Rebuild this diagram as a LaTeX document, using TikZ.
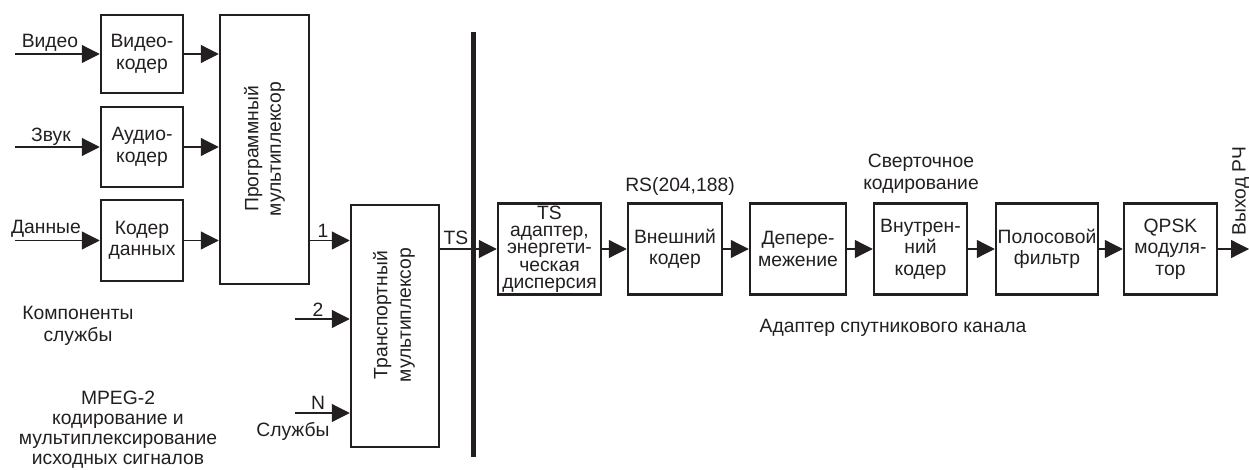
\documentclass[tikz,border=0pt]{standalone}
\usepackage{fontspec}
\setmainfont{Liberation Sans}
\usetikzlibrary{arrows.meta}
\definecolor{ink}{HTML}{231F20}
\begin{document}
\begin{tikzpicture}[x=1pt,y=-1pt,
  box/.style={draw=ink, text=ink, line width=2.5pt, inner sep=0pt, align=center, font=\fontsize{19.3}{21.5}\selectfont},
  chain/.style={box, minimum height=91pt},
  arr/.style={draw=ink, line width=1.2pt, -{Triangle[length=18pt,width=18pt]}},
  lbl/.style={text=ink, inner sep=0pt, align=center, font=\fontsize{19.3}{21}\selectfont},
]
\useasboundingbox (0,0) rectangle (1249,470);

% coders
\node[box, minimum width=82pt, minimum height=78pt] (vid) at (142,54) {Видео-\\кодер};
\node[box, minimum width=82pt, minimum height=80pt] (aud) at (142,147) {Аудио-\\кодер};
\node[box, minimum width=82pt, minimum height=81pt] (dat) at (142,240.5) {Кодер\\данных};

% multiplexers
\node[box, minimum width=89pt, minimum height=269pt] (pmux) at (264.5,149.5) {};
\node[lbl, rotate=90, font=\fontsize{19.3}{22.5}\selectfont] (pmuxt) at (264.5,149) {Программный\\мультиплексор};
\node[box, minimum width=88pt, minimum height=242pt] (tmux) at (395,326) {};
\node[lbl, rotate=90, font=\fontsize{19.3}{23.5}\selectfont] (tmuxt) at (394,315) {Транспортный\\мультиплексор};

% separator bar
\coordinate (bt) at (473,32);
\coordinate (bb) at (473,457);
\draw[ink, line width=5pt] (bt) -- (bb);

% satellite chain
\node[chain, minimum width=103pt, font=\fontsize{19.3}{17.3}\selectfont] (tsa) at (549.5,249) {TS\\адаптер,\\энергети-\\ческая\\дисперсия};
\node[chain, minimum width=94pt] (outer) at (675,249) {Внешний\\кодер};
\node[chain, minimum width=96pt] (dep) at (798,249) {Депере-\\межение};
\node[chain, minimum width=93pt] (inner) at (920.5,249) {Внутрен-\\ний\\кодер};
\node[chain, minimum width=102pt] (bpf) at (1047,249) {Полосовой\\фильтр};
\node[chain, minimum width=93pt] (qpsk) at (1170.5,249) {QPSK\\модуля-\\тор};

% inputs
\coordinate (vin) at (15,54);
\coordinate (ain) at (15,147);
\coordinate (din) at (15,240.5);
\draw[arr] (vin) -- (vid);
\draw[arr] (ain) -- (aud);
\draw[arr] (din) -- (dat);
\node[lbl] (lvid) at (50,43) {Видео};
\node[lbl] (laud) at (51,137) {Звук};
\node[lbl] (ldat) at (46,229) {Данные};

\draw[arr] (vid) -- (pmux.west |- vid);
\draw[arr] (aud) -- (pmux.west |- aud);
\draw[arr] (dat) -- (pmux.west |- dat);

% transport inputs
\draw[arr] (pmux.east |- dat) -- (tmux.west |- dat);
\coordinate (in2) at (295,319);
\coordinate (inN) at (295,413);
\draw[arr] (in2) -- (tmux.west |- in2);
\draw[arr] (inN) -- (tmux.west |- inN);
\node[lbl] (l1) at (323,231) {1};
\node[lbl] (l2) at (318,310) {2};
\node[lbl] (lN) at (318,403) {N};
\node[lbl] (lserv) at (293,431) {Службы};

% TS
\draw[arr] (tmux.east |- tsa.west) -- (tsa.west);
\node[lbl] (lts) at (456,238) {TS};

% chain arrows
\draw[arr] (tsa) -- (outer);
\draw[arr] (outer) -- (dep);
\draw[arr] (dep) -- (inner);
\draw[arr] (inner) -- (bpf);
\draw[arr] (bpf) -- (qpsk);
\coordinate (rfout) at (1249,249);
\draw[arr] (qpsk) -- (rfout);
\node[lbl, rotate=90] (lrf) at (1241,191) {Выход РЧ};

% annotations
\node[lbl] (lrs) at (680,187) {RS(204,188)};
\node[lbl, font=\fontsize{19.3}{22}\selectfont] (lconv) at (921,174) {Сверточное\\кодирование};
\node[lbl] (lsat) at (893,328) {Адаптер спутникового канала};
\node[lbl, font=\fontsize{19.3}{22}\selectfont] (lcomp) at (78,326) {Компоненты\\службы};
\node[lbl, font=\fontsize{19.3}{20}\selectfont] (lmpeg) at (118,430) {MPEG-2\\кодирование и\\мультиплексирование\\исходных сигналов};
\end{tikzpicture}
\end{document}
